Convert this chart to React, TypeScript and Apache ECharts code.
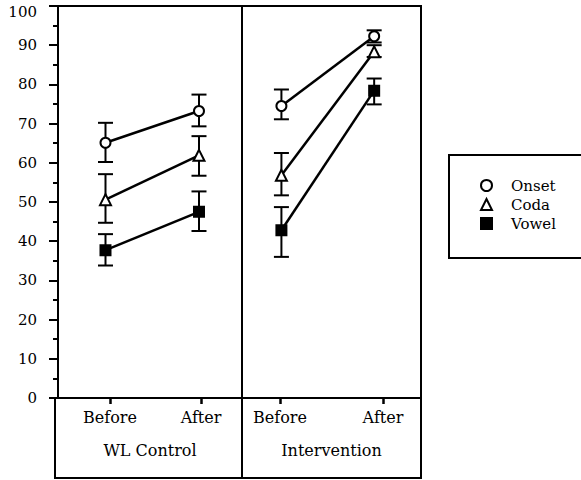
import React, { useEffect, useRef } from "react";
import * as echarts from "echarts";

// ---- data ----
const categories = ["Before", "After"];
const panels = ["WL Control", "Intervention"];
const seriesNames = ["Onset", "Coda", "Vowel"];
const yTicks = [0, 10, 20, 30, 40, 50, 60, 70, 80, 90, 100];

// WL Control panel
const wlOnset = [65.1, 73.2];
const wlOnsetLow = [60.2, 69.3];
const wlOnsetHigh = [70.2, 77.4];
const wlCoda = [50.6, 61.9];
const wlCodaLow = [44.7, 56.7];
const wlCodaHigh = [57.1, 66.8];
const wlVowel = [37.7, 47.5];
const wlVowelLow = [33.8, 42.6];
const wlVowelHigh = [41.8, 52.7];

// Intervention panel
const ivOnset = [74.5, 92.3];
const ivOnsetLow = [71.1, 90.7];
const ivOnsetHigh = [78.7, 93.8];
const ivCoda = [56.8, 88.3];
const ivCodaLow = [51.7, 87.0];
const ivCodaHigh = [62.5, 90.0];
const ivVowel = [42.8, 78.4];
const ivVowelLow = [36.0, 74.9];
const ivVowelHigh = [48.7, 81.5];

const FONT = "DejaVu Serif";
const BLACK = "#000";

const symbols = ["emptyCircle", "emptyTriangle", "rect"];
const symbolSizes = [10, 11, 10];

function pts(vals: number[]) {
  return vals.map((v, i) => [i, v]);
}
function errs(low: number[], high: number[]) {
  return low.map((l, i) => [i, l, high[i]]);
}

const renderErr = (params: any, api: any) => {
  const x = api.value(0);
  const lo = api.coord([x, api.value(1)]);
  const hi = api.coord([x, api.value(2)]);
  const hw = 7.5;
  const st = { stroke: BLACK, lineWidth: 2 };
  return {
    type: "group",
    children: [
      { type: "line", shape: { x1: lo[0], y1: lo[1], x2: hi[0], y2: hi[1] }, style: st },
      { type: "line", shape: { x1: lo[0] - hw, y1: lo[1], x2: lo[0] + hw, y2: lo[1] }, style: st },
      { type: "line", shape: { x1: hi[0] - hw, y1: hi[1], x2: hi[0] + hw, y2: hi[1] }, style: st },
    ],
  };
};

export default function App() {
  const ref = useRef<HTMLDivElement>(null);
  useEffect(() => {
    if (!ref.current) return;
    const chart = echarts.init(ref.current, null, { renderer: "svg" });

    const panelData = [
      {
        means: [wlOnset, wlCoda, wlVowel],
        errs: [errs(wlOnsetLow, wlOnsetHigh), errs(wlCodaLow, wlCodaHigh), errs(wlVowelLow, wlVowelHigh)],
      },
      {
        means: [ivOnset, ivCoda, ivVowel],
        errs: [errs(ivOnsetLow, ivOnsetHigh), errs(ivCodaLow, ivCodaHigh), errs(ivVowelLow, ivVowelHigh)],
      },
    ];

    const series: any[] = [];
    panelData.forEach((p, pi) => {
      p.errs.forEach((e, si) => {
        series.push({
          type: "custom",
          name: seriesNames[si] + " error",
          xAxisIndex: pi * 2,
          yAxisIndex: pi,
          renderItem: renderErr,
          encode: { x: 0, y: [1, 2] },
          data: e,
          z: 1,
          silent: true,
        });
      });
      p.means.forEach((m, si) => {
        series.push({
          type: "line",
          name: seriesNames[si],
          xAxisIndex: pi * 2,
          yAxisIndex: pi,
          data: pts(m),
          symbol: symbols[si],
          symbolSize: symbolSizes[si],
          lineStyle: { color: BLACK, width: 2.5 },
          itemStyle: { color: BLACK, borderColor: BLACK, borderWidth: 2 },
          z: 3,
        });
      });
    });

    const labelAxis = (gi: number, min: number, max: number, name: string) => ({
      gridIndex: gi,
      type: "value",
      position: "bottom",
      min,
      max,
      axisLine: { show: true, onZero: false, lineStyle: { color: BLACK, width: 2 } },
      axisTick: { show: true, customValues: [0, 1], length: 6, lineStyle: { color: BLACK, width: 2.5 } },
      axisLabel: {
        customValues: [0, 1],
        formatter: (v: number) => categories[Math.round(v)] ?? "",
        margin: 11,
        fontSize: 16,
        fontFamily: FONT,
        color: BLACK,
      },
      splitLine: { show: false },
      name,
      nameLocation: "middle",
      nameGap: 44,
      nameTextStyle: { fontSize: 16, fontFamily: FONT, color: BLACK },
    });

    const option: any = {
      animation: false,
      backgroundColor: "#fff",
      grid: [
        { left: 58, top: 6, width: 184, height: 392, show: true, borderColor: BLACK, borderWidth: 2, backgroundColor: "transparent" },
        { left: 242, top: 6, width: 179, height: 392, show: true, borderColor: BLACK, borderWidth: 2, backgroundColor: "transparent" },
      ],
      xAxis: [
        { gridIndex: 0, type: "value", position: "top", min: -0.508, max: 1.46, show: false },
        labelAxis(0, -0.571, 1.45, panels[0]),
        { gridIndex: 1, type: "value", position: "top", min: -0.425, max: 1.505, show: false },
        labelAxis(1, -0.369, 1.369, panels[1]),
      ],
      yAxis: [
        {
          gridIndex: 0,
          type: "value",
          position: "left",
          min: yTicks[0],
          max: yTicks[yTicks.length - 1],
          interval: 10,
          axisLine: { show: true, onZero: false, lineStyle: { color: BLACK, width: 2 } },
          axisTick: { show: true, length: 9, lineStyle: { color: BLACK, width: 2 } },
          minorTick: { show: true, splitNumber: 2, length: 5, lineStyle: { color: BLACK, width: 2 } },
          axisLabel: {
            margin: 21,
            fontSize: 15,
            fontFamily: FONT,
            color: BLACK,
            formatter: (v: number) => (v === 100 ? "{t|100}" : String(v)),
            rich: { t: { fontSize: 15, fontFamily: FONT, color: BLACK, padding: [12, 0, 0, 0] } },
          },
          splitLine: { show: false },
        },
        { gridIndex: 1, type: "value", min: 0, max: 100, show: false, splitLine: { show: false } },
      ],
      legend: {
        orient: "vertical",
        left: 475,
        top: 173,
        itemWidth: 11,
        itemHeight: 11,
        itemGap: 4,
        selectedMode: false,
        data: seriesNames.map((n, i) => ({ name: n, icon: symbols[i] })),
        textStyle: { fontFamily: FONT, fontSize: 15, color: BLACK, lineHeight: 15, padding: [0, 0, 0, 14] },
      },
      graphic: [
        { type: "rect", shape: { x: 55, y: 398, width: 187, height: 80 }, style: { fill: "none", stroke: BLACK, lineWidth: 2 }, silent: true },
        { type: "rect", shape: { x: 242, y: 398, width: 179, height: 80 }, style: { fill: "none", stroke: BLACK, lineWidth: 2 }, silent: true },
        { type: "rect", shape: { x: 449, y: 155, width: 140, height: 103 }, style: { fill: "none", stroke: BLACK, lineWidth: 2 }, silent: true },
      ],
      series,
    };

    chart.setOption(option);
    return () => chart.dispose();
  }, []);

  return (
    <div
      ref={ref}
      style={{ position: "fixed", left: 0, top: 0, width: 581, height: 480, background: "#fff" }}
    />
  );
}
